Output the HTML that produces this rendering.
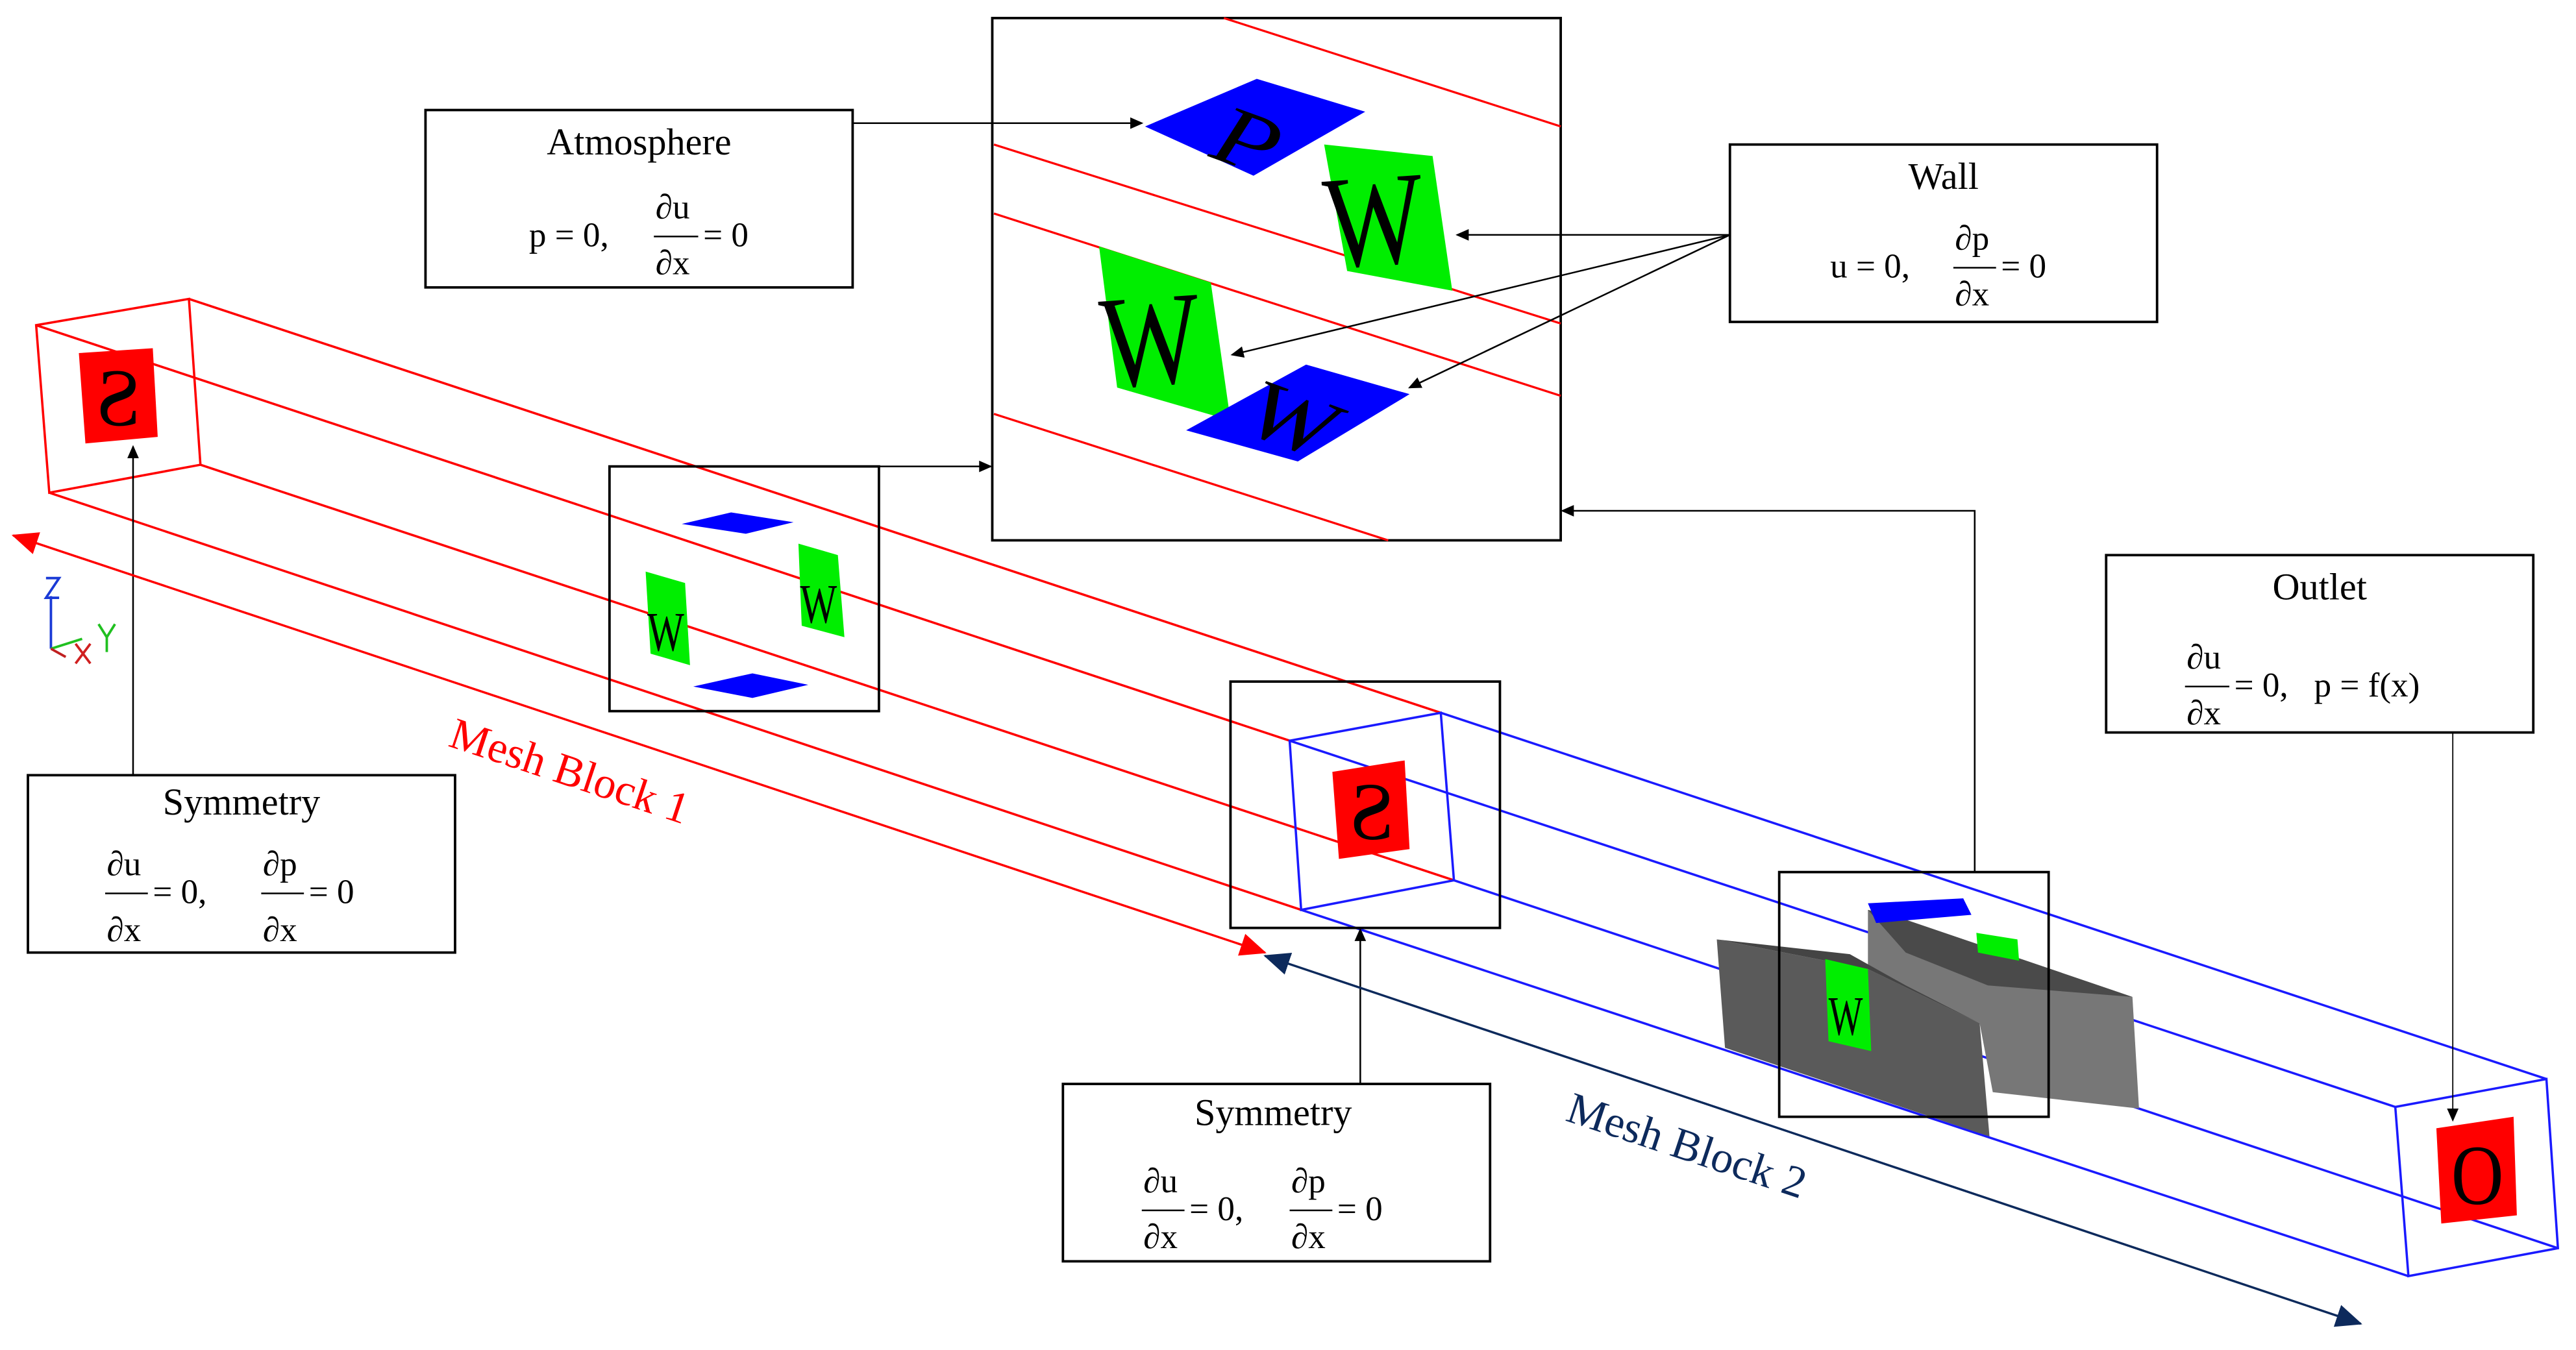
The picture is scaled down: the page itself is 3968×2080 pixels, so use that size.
<!DOCTYPE html>
<html><head><meta charset="utf-8"><style>
html,body{margin:0;padding:0;background:#fff;}
svg{display:block;}
text{font-family:"Liberation Serif","DejaVu Serif",serif;}
</style></head><body>
<svg width="3968" height="2080" viewBox="0 0 1568 822" preserveAspectRatio="none" xmlns="http://www.w3.org/2000/svg">
<defs>
<marker id="ak" markerWidth="8" markerHeight="8" refX="7" refY="4" orient="auto" markerUnits="userSpaceOnUse"><path d="M0,0.5 L8,4 L0,7.5z" fill="#000"/></marker>
<marker id="ar" markerWidth="16" markerHeight="14" refX="15" refY="7" orient="auto" markerUnits="userSpaceOnUse"><path d="M0,0 L16,7 L0,14z" fill="#f00"/></marker>
<marker id="an" markerWidth="16" markerHeight="14" refX="15" refY="7" orient="auto" markerUnits="userSpaceOnUse"><path d="M0,0 L16,7 L0,14z" fill="#0d2a5c"/></marker>
</defs>
<rect width="1568" height="822" fill="#fff"/>

<g stroke="#f00" stroke-width="1.4" fill="none">
<polygon points="22,198 115,182 122,283 30,300"/>
<line x1="22" y1="198" x2="785" y2="451"/>
<line x1="115" y1="182" x2="877" y2="434"/>
<line x1="122" y1="283" x2="885" y2="536"/>
<line x1="30" y1="300" x2="792" y2="554"/>
</g>
<g stroke="#1a1aff" stroke-width="1.4" fill="none">
<polygon points="785,451 877,434 885,536 792,554"/>
<line x1="785" y1="451" x2="1458" y2="674"/>
<line x1="877" y1="434" x2="1550" y2="657"/>
<line x1="885" y1="536" x2="1557" y2="760"/>
<line x1="792" y1="554" x2="1466" y2="777"/>
<polygon points="1458,674 1550,657 1557,760 1466,777"/>
</g>

<polygon points="48,215 93,212 96,266 52,270" fill="#f00"/>
<text x="0" y="0" font-size="50" text-anchor="middle" transform="translate(72,259) scale(-1,1)">S</text>
<polygon points="811,470 855,463 858,517 815,523" fill="#f00"/>
<text x="0" y="0" font-size="50" text-anchor="middle" transform="translate(835,511) scale(-1,1)">S</text>
<polygon points="1483,687 1530,680 1532,740 1486,745" fill="#f00"/>
<text x="0" y="0" font-size="52" text-anchor="middle" transform="translate(1508,733) scale(0.85,1)">O</text>

<polygon points="1045,572 1137,590 1205,623 1211,692 1050,638" fill="#5a5a5a"/>
<polygon points="1137,554 1160,560 1298,607 1302,675 1213,665 1205,623 1137,590" fill="#777"/>
<polygon points="1045,572 1126,581 1160,600 1205,623 1137,590" fill="#444"/>
<polygon points="1137,554 1160,560 1298,607 1210,600 1160,580" fill="#4a4a4a"/>
<polygon points="1137,550 1195,547 1200,557 1142,562" fill="#0000ff"/>
<polygon points="1203,568 1228,572 1229,585 1204,580" fill="#00ee00"/>
<polygon points="1111,584 1137,590 1139,640 1113,634" fill="#00ee00"/>
<text x="0" y="0" font-size="34" transform="translate(1113,630) scale(0.65,1)">W</text>

<g stroke-width="1.5" fill="none">
<path d="M31,395 L31,363 M28,352 h8 l-8,12 h8" stroke="#1a3ad6"/>
<path d="M31,395 L50,389" stroke="#20c020"/>
<path d="M31,395 L40,400" stroke="#c02020"/>
<path d="M46,392 l9,12 M55,392 l-9,12" stroke="#d02020"/>
<path d="M60,380 l5,8 l5,-8 M65,388 v9" stroke="#20c020"/>
</g>

<rect x="371" y="284" width="164" height="149" fill="none" stroke="#000" stroke-width="1.5"/>
<polygon points="415,319 445,312 483,318 454,325" fill="#0000ff"/>
<polygon points="393,348 417,355 420,405 396,398" fill="#00ee00"/>
<text x="0" y="0" font-size="34" transform="translate(394,396) scale(0.7,1)">W</text>
<polygon points="486,331 510,338 514,388 488,381" fill="#00ee00"/>
<text x="0" y="0" font-size="34" transform="translate(487,379) scale(0.7,1)">W</text>
<polygon points="422,418 458,410 492,417 458,425" fill="#0000ff"/>

<rect x="604" y="11" width="346" height="318" fill="#fff" stroke="#000" stroke-width="1.5"/>
<g stroke="#f00" stroke-width="1.3">
<line x1="745" y1="11" x2="950" y2="77"/>
<line x1="605" y1="88" x2="950" y2="197"/>
<line x1="605" y1="130" x2="950" y2="241"/>
<line x1="605" y1="252" x2="845" y2="329"/>
</g>
<polygon points="697,77 765,48 831,68 763,107" fill="#0000ff"/>
<text x="0" y="0" font-size="64" font-style="italic" transform="translate(735,95) rotate(20) scale(1,0.8)">P</text>
<polygon points="806,88 872,95 884,177 820,165" fill="#00ee00"/>
<text x="0" y="0" font-size="80" transform="translate(808,163) rotate(-4) scale(0.8,1)">W</text>
<polygon points="669,150 737,172 749,256 680,236" fill="#00ee00"/>
<text x="0" y="0" font-size="80" transform="translate(672,236) rotate(-4) scale(0.8,1)">W</text>
<polygon points="722,262 795,222 858,240 790,281" fill="#0000ff"/>
<text x="0" y="0" font-size="64" font-style="italic" transform="translate(755,262) rotate(20) scale(1,0.8)">W</text>

<rect x="749" y="415" width="164" height="150" fill="none" stroke="#000" stroke-width="1.5"/>
<rect x="1083" y="531" width="164" height="149" fill="none" stroke="#000" stroke-width="1.5"/>

<g stroke="#000" stroke-width="1" fill="none">
<line x1="519" y1="75" x2="695" y2="75" marker-end="url(#ak)"/>
<line x1="1053" y1="143" x2="887" y2="143" marker-end="url(#ak)"/>
<line x1="1053" y1="143" x2="750" y2="216" marker-end="url(#ak)"/>
<line x1="1053" y1="143" x2="858" y2="236" marker-end="url(#ak)"/>
<line x1="535" y1="284" x2="603" y2="284" marker-end="url(#ak)"/>
<polyline points="1202,531 1202,311 951,311" marker-end="url(#ak)"/>
<line x1="1493" y1="446" x2="1493" y2="682" marker-end="url(#ak)" stroke-width="0.7"/>
<line x1="828" y1="660" x2="828" y2="566" marker-end="url(#ak)"/>
<line x1="81" y1="472" x2="81" y2="272" marker-end="url(#ak)"/>
</g>

<line x1="770" y1="580" x2="8" y2="326" stroke="#f00" stroke-width="1.3" marker-end="url(#ar)"/>
<line x1="8" y1="326" x2="770" y2="580" stroke="#f00" stroke-width="1.3" marker-end="url(#ar)"/>
<line x1="1437" y1="806" x2="770" y2="582" stroke="#0d2a5c" stroke-width="1.3" marker-end="url(#an)"/>
<line x1="770" y1="582" x2="1437" y2="806" stroke="#0d2a5c" stroke-width="1.3" marker-end="url(#an)"/>
<text x="0" y="0" font-size="27" fill="#f00" text-anchor="middle" transform="translate(344,478) rotate(18.4)">Mesh Block 1</text>
<text x="0" y="0" font-size="27" fill="#0d2a5c" text-anchor="middle" transform="translate(1024,706) rotate(18.4)">Mesh Block 2</text>

<g fill="#fff" stroke="#000" stroke-width="1.5">
<rect x="259" y="67" width="260" height="108"/>
<rect x="1053" y="88" width="260" height="108"/>
<rect x="1282" y="338" width="260" height="108"/>
<rect x="17" y="472" width="260" height="108"/>
<rect x="647" y="660" width="260" height="108"/>
</g>
<g font-size="23" text-anchor="middle">
<text x="389" y="94">Atmosphere</text>
<text x="1183" y="115">Wall</text>
<text x="1412" y="365">Outlet</text>
<text x="147" y="496">Symmetry</text>
<text x="775" y="685">Symmetry</text>
</g>
<g font-size="21">
<text x="322" y="150">p = 0,</text>
<text x="399" y="133">∂u</text><line x1="398" y1="144" x2="425" y2="144" stroke="#000"/><text x="399" y="167">∂x</text>
<text x="428" y="150">= 0</text>
<text x="1114" y="169">u = 0,</text>
<text x="1190" y="152">∂p</text><line x1="1189" y1="163" x2="1215" y2="163" stroke="#000"/><text x="1190" y="186">∂x</text>
<text x="1218" y="169">= 0</text>
<text x="1331" y="407">∂u</text><line x1="1330" y1="418" x2="1357" y2="418" stroke="#000"/><text x="1331" y="441">∂x</text>
<text x="1360" y="424" xml:space="preserve">= 0,   p = f(x)</text>
<text x="65" y="533">∂u</text><line x1="64" y1="544" x2="90" y2="544" stroke="#000"/><text x="65" y="573">∂x</text>
<text x="93" y="550">= 0,</text>
<text x="160" y="533">∂p</text><line x1="159" y1="544" x2="185" y2="544" stroke="#000"/><text x="160" y="573">∂x</text>
<text x="188" y="550">= 0</text>
<text x="696" y="726">∂u</text><line x1="695" y1="737" x2="721" y2="737" stroke="#000"/><text x="696" y="760">∂x</text>
<text x="724" y="743">= 0,</text>
<text x="786" y="726">∂p</text><line x1="785" y1="737" x2="811" y2="737" stroke="#000"/><text x="786" y="760">∂x</text>
<text x="814" y="743">= 0</text>
</g>
</svg>
</body></html>
